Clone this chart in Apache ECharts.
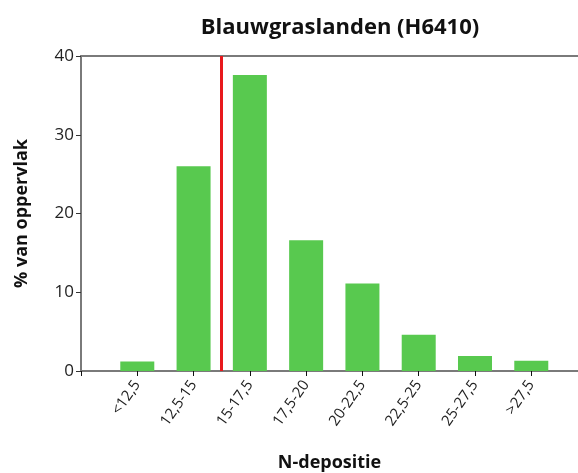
<!DOCTYPE html>
<html>
<head>
<meta charset="utf-8">
<script src="https://cdn.jsdelivr.net/npm/echarts@6/dist/echarts.min.js"></script>
<style>
  html, body { margin: 0; padding: 0; background: #fff; }
  #chart { width: 578px; height: 473px; }
</style>
</head>
<body>
<div id="chart"></div>
<script>
const categories = ['<12,5', '12,5-15', '15-17,5', '17,5-20', '20-22,5', '22,5-25', '25-27,5', '>27,5']
const percentages = [1.2, 26.0, 37.6, 16.6, 11.1, 4.6, 1.9, 1.3]
const redLineAt = 2.5   // grens tussen 12,5-15 en 15-17,5
const yTicks = [0, 10, 20, 30, 40]

const FONT = '"Open Sans", "Noto Sans", sans-serif'
const AXIS_GREY = '#7a7a7a'

const chart = echarts.init(document.getElementById('chart'), null, { renderer: 'canvas' })

chart.setOption({
  animation: false,
  title: {
    text: 'Blauwgraslanden (H6410)',
    left: 335,
    textAlign: 'center',
    top: 12,
    textStyle: { fontFamily: FONT, fontSize: 22, fontWeight: 'bold', color: '#111' }
  },
  // plot loopt rechts door tot buiten de rand, dus max iets onder 9
  grid: { left: 81, right: 0, top: 56, bottom: 102, outerBoundsMode: 'none' },
  xAxis: [{
    type: 'value',
    min: 0,
    max: 8.83,
    interval: 1,
    splitLine: { show: false },
    axisLine: { lineStyle: { color: AXIS_GREY, width: 2 } },
    axisTick: { show: true, length: 5, lineStyle: { color: '#111' } },
    axisLabel: {
      rotate: 55,
      margin: 11,
      fontFamily: FONT,
      fontSize: 15,
      color: '#222',
      showMaxLabel: false,
      formatter: v => categories[v - 1] || ''
    },
    name: 'N-depositie',
    nameLocation: 'middle',
    nameGap: 83,
    nameTextStyle: { fontFamily: FONT, fontSize: 18, fontWeight: 'bold', color: '#111' }
  }, {
    // alleen de bovenrand
    type: 'value',
    position: 'top',
    min: 0,
    max: 8.83,
    axisLine: { show: true, onZero: false, lineStyle: { color: AXIS_GREY, width: 2 } },
    axisTick: { show: false },
    axisLabel: { show: false },
    splitLine: { show: false }
  }],
  yAxis: {
    type: 'value',
    min: yTicks[0],
    max: yTicks[yTicks.length - 1],
    interval: 10,
    splitLine: { show: false },
    axisLine: { show: true, lineStyle: { color: AXIS_GREY, width: 2 } },
    axisTick: { show: true, length: 5, lineStyle: { color: '#333' } },
    axisLabel: { fontFamily: FONT, fontSize: 17, color: '#222', margin: 7 },
    name: '% van oppervlak',
    nameLocation: 'middle',
    nameGap: 50,
    nameTextStyle: { fontFamily: FONT, fontSize: 18, fontWeight: 'bold', color: '#111' }
  },
  series: [{
    type: 'bar',
    data: percentages.map((v, i) => [i + 1, v]),
    barWidth: 34,
    itemStyle: { color: '#58c94f' },
    markLine: {
      silent: true,
      symbol: 'none',
      label: { show: false },
      lineStyle: { color: '#e8181c', width: 3, type: 'solid' },
      data: [{ xAxis: redLineAt }]
    }
  }]
})
</script>
</body>
</html>
